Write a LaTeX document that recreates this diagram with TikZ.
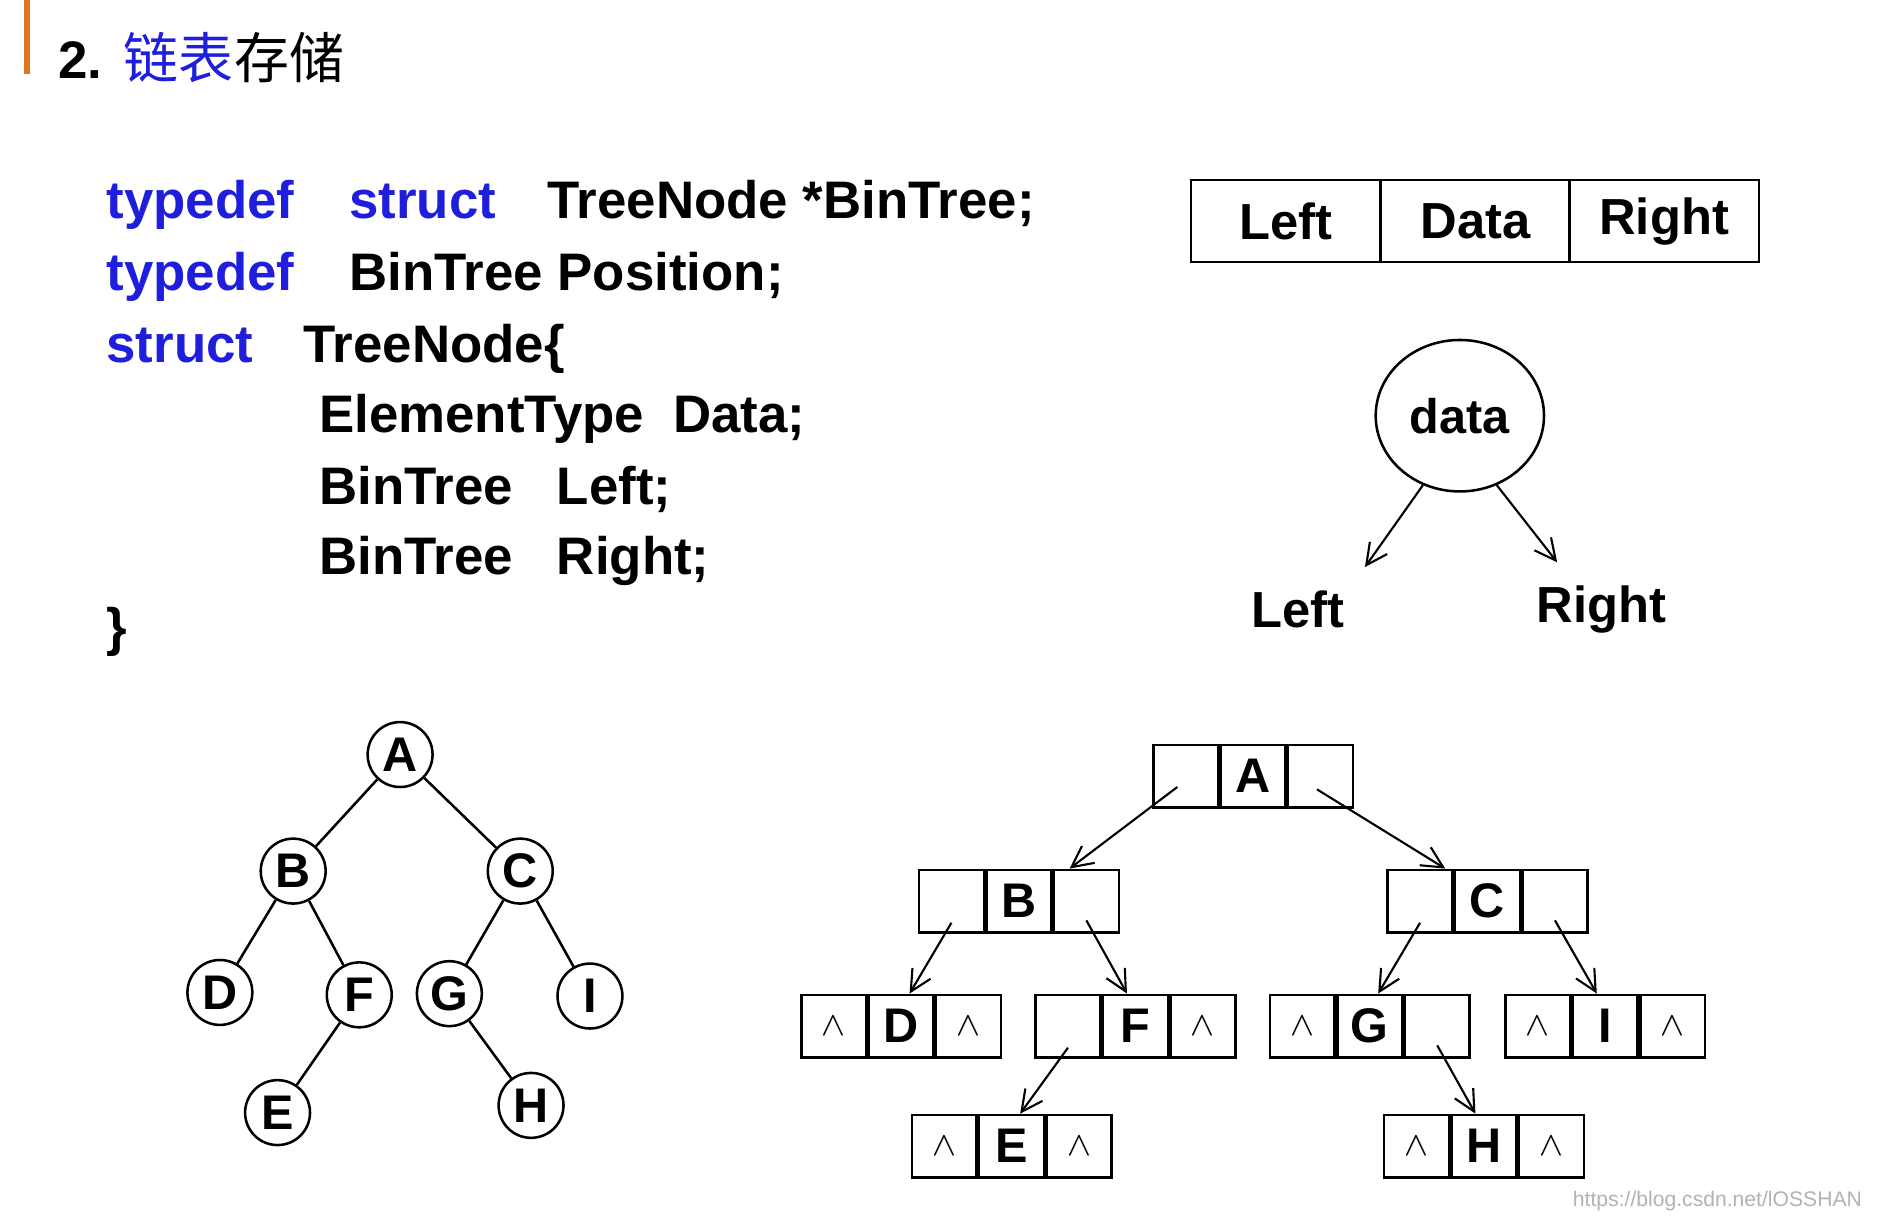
\documentclass[tikz,border=0pt]{standalone}
\usepackage{fontspec}
\setmainfont{Liberation Sans}
\newfontfamily\cjk{Noto Sans CJK SC}
\usetikzlibrary{arrows.meta,shapes.geometric}
\definecolor{kw}{RGB}{30,30,220}
\definecolor{bar}{RGB}{220,120,30}
\begin{document}
\begin{tikzpicture}[x=0.01cm,y=-0.01cm,
  txt/.style={font=\fontsize{12.5}{15}\selectfont\bfseries,anchor=base west,inner sep=0},
  cell/.style={draw,line width=0.6pt,minimum width=0.54cm,minimum height=0.52cm,inner sep=0,font=\fontsize{11.5}{14}\selectfont\bfseries},
  circ/.style={draw,circle,line width=0.6pt,minimum size=0.54cm,inner sep=0,font=\fontsize{11.5}{14}\selectfont\bfseries},
  arr/.style={-{Straight Barb[length=5pt,width=5pt]},line width=0.5pt},
  edge/.style={line width=0.6pt}]
\useasboundingbox (0,0) rectangle (1568,1025);
\fill[bar] (20,0) rectangle (25,62);
\node[txt] (t2) at (48,65) {2.};
\node[txt,font=\cjk\fontsize{13}{15}\selectfont,text=kw] (t3) at (102,65) {链表};
\node[txt,font=\cjk\fontsize{13}{15}\selectfont] (t4) at (t3.base east) {存储};
% code
\node[txt,text=kw] (c1) at (88,182) {typedef};
\node[txt,text=kw] (c2) at (290,182) {struct};
\node[txt] (c3) at (455,182) {TreeNode *BinTree;};
\node[txt,text=kw] (c4) at (88,242) {typedef};
\node[txt] (c5) at (290,242) {BinTree Position;};
\node[txt,text=kw] (c6) at (88,302) {struct};
\node[txt] (c7) at (252,302) {TreeNode\{};
\node[txt] (c8) at (265,360) {ElementType\ \ Data;};
\node[txt] (c9) at (265,420) {BinTree\ \ \ Left;};
\node[txt] (c10) at (265,478) {BinTree\ \ \ Right;};
\node[txt] (c11) at (88,537) {\}};
% table
\tikzset{hcell/.style={cell,minimum width=1.575cm,minimum height=0.68cm,font=\fontsize{12}{15}\selectfont\bfseries}}
\node[hcell] (hl) at (1070,184) {Left};
\node[hcell] (hd) at (1228,184) {Data};
\node[hcell] (hr) at (1385,184) {Right};
\node[draw,ellipse,minimum width=1.4cm,minimum height=1.26cm,inner sep=0,line width=0.6pt,font=\fontsize{11.5}{14}\selectfont\bfseries] (dd) at (1215,346) {data};
\node[font=\fontsize{12}{15}\selectfont\bfseries] (ll) at (1080,507) {Left};
\node[font=\fontsize{12}{15}\selectfont\bfseries] (rr) at (1333,507) {Right};
\coordinate (la) at (1136,472); \coordinate (ra) at (1296,468);
\draw[arr] (dd.-118) -- (la);
\draw[arr] (dd.-62) -- (ra);
% tree
\foreach \n/\x/\y in {A/333/628,B/244/725,C/433/725,D/183/826,F/299/828,G/374/827,I/491/829,E/231/926,H/442/920}
  \node[circ] (t\n) at (\x,\y) {\n};
\foreach \a/\b in {A/B,A/C,B/D,B/F,C/G,C/I,F/E,G/H}
  \draw[edge] (t\a) -- (t\b);
% linked nodes
\newcommand{\lnode}[6]{%
  \node[cell] (#1) at (#2,#3) {#5};
  \node[cell,anchor=east] (#1L) at (#1.west) {#4};
  \node[cell,anchor=west] (#1R) at (#1.east) {#6};}
\def\nl{\raisebox{-0.6ex}{\fontsize{8}{8}\selectfont$\wedge$}}
\lnode{A}{1043}{646}{}{A}{}
\lnode{B}{848}{750}{}{B}{}
\lnode{C}{1238}{750}{}{C}{}
\lnode{D}{750}{854}{\nl}{D}{\nl}
\lnode{F}{945}{854}{}{F}{\nl}
\lnode{G}{1140}{854}{\nl}{G}{}
\lnode{I}{1336}{854}{\nl}{I}{\nl}
\lnode{E}{842}{954}{\nl}{E}{\nl}
\lnode{H}{1235}{954}{\nl}{H}{\nl}
\draw[arr] ([shift={(-7,9)}]AL.center) -- ([xshift=12]B.north);
\draw[arr] ([shift={(-3,11)}]AR.center) -- ([xshift=-10]C.north);
\foreach \p/\c in {B/D,C/G,F/E}
  \draw[arr] ([shift={(0,18)}]\p L.center) -- ([xshift=2]\c.north);
\foreach \p/\c in {B/F,C/I,G/H}
  \draw[arr] ([shift={(0,16)}]\p R.center) -- ([xshift=-2]\c.north);
\node[anchor=south east,text=gray!60,font=\fontsize{5}{6}\selectfont] (wm) at (1562,1020) {https://blog.csdn.net/lOSSHAN};
\end{tikzpicture}
\end{document}
